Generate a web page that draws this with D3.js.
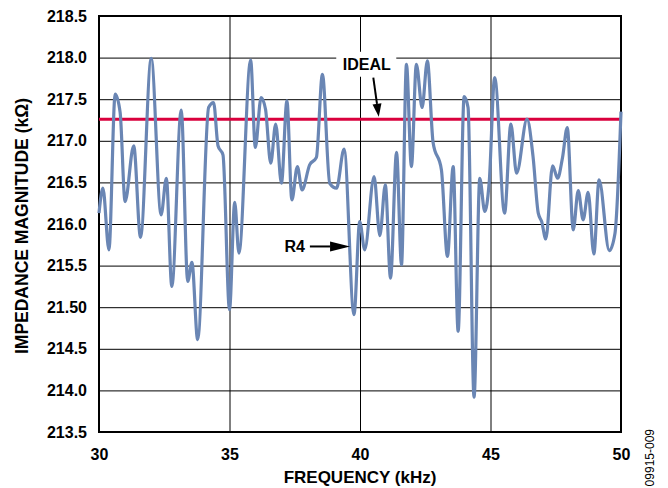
<!DOCTYPE html>
<html>
<head>
<meta charset="utf-8">
<script src="https://cdn.jsdelivr.net/npm/d3@7"></script>
<style>
	html, body { margin: 0; padding: 0; background: #fff; }
	#canvas { width: 668px; height: 488px; overflow: hidden; }
	text { font-family: "Liberation Sans", Arial, Helvetica, sans-serif; fill: #000; }
	.bold { font-weight: bold; }
</style>
</head>
<body>
<div id="canvas"></div>
<script>
/* global d3 */

// Data
var freqKHz = [
	30.00, 30.15, 30.38, 30.62, 30.81, 31.00, 31.33, 31.59, 32.00, 32.38,
	32.58, 32.79, 33.15, 33.40, 33.56, 33.78, 34.20, 34.39, 34.56, 34.75,
	35.00, 35.20, 35.36, 35.81, 35.99, 36.21, 36.38, 36.58, 36.77, 36.99,
	37.20, 37.39, 37.60, 37.78, 38.07, 38.33, 38.56, 38.84, 39.10, 39.39,
	39.77, 39.99, 40.18, 40.54, 40.76, 40.97, 41.17, 41.40, 41.59, 41.78,
	41.97, 42.16, 42.38, 42.58, 42.80, 43.12, 43.35, 43.57, 43.76, 43.99,
	44.14, 44.37, 44.59, 44.78, 44.95, 45.16, 45.54, 45.78, 46.00, 46.40,
	46.63, 46.83, 46.96, 47.12, 47.38, 47.57, 47.76, 47.94, 48.17, 48.36,
	48.55, 48.74, 48.96, 49.16, 49.55, 49.77, 50.00
];
var impedanceR4 = [
	216.13, 216.43, 215.69, 217.56, 217.34, 216.27, 216.94, 215.84, 217.99, 216.11,
	216.55, 215.25, 217.37, 215.31, 215.54, 214.61, 217.40, 217.46, 216.94, 216.83,
	214.97, 216.26, 215.65, 217.97, 216.92, 217.52, 217.38, 216.73, 217.20, 216.49,
	217.48, 216.29, 216.69, 216.41, 216.71, 216.80, 217.80, 216.49, 216.43, 216.90,
	214.91, 216.03, 215.69, 216.57, 215.86, 216.47, 215.35, 216.86, 215.51, 217.92,
	216.69, 217.92, 217.40, 217.96, 216.98, 216.65, 215.61, 216.69, 214.71, 217.53,
	217.40, 213.92, 216.55, 216.15, 216.50, 217.76, 216.13, 217.20, 216.61, 217.26,
	216.81, 216.13, 216.03, 215.82, 216.70, 216.55, 216.80, 217.16, 215.93, 216.40,
	216.05, 216.38, 215.64, 216.53, 215.68, 215.89, 217.35
];
var idealValue = 217.26;

var xTicks = [30, 35, 40, 45, 50];
var yTicks = [218.5, 218.0, 217.5, 217.0, 216.5, 216.0, 215.5, 215.0, 214.5, 214.0, 213.5];
var yTickLabels = ['218.5', '218.0', '217.5', '217.0', '216.5', '216.0', '215.5', '21.50', '214.5', '214.0', '213.5'];

// UI
var outerWidth = 668,
	outerHeight = 488,
	margin = { top: 16, left: 99, right: 47, bottom: 56 },
	width = outerWidth - margin.left - margin.right,
	height = outerHeight - margin.top - margin.bottom,
	lineColor = '#6a86b4',
	idealColor = '#d9003d';

var svg = d3.select('#canvas').append('svg')
	.attr('width', outerWidth)
	.attr('height', outerHeight);

var gWrap = svg.append('g')
	.attr('transform', 'translate(' + margin.left + ',' + margin.top + ')');

// Scales
var xScale = d3.scaleLinear().domain([30, 50]).range([0, width]),
	yScale = d3.scaleLinear().domain([213.5, 218.5]).range([height, 0]);

// Horizontal grid + y labels
var yAxis = d3.axisLeft(yScale)
	.tickValues(yTicks)
	.tickSize(-width)
	.tickPadding(12)
	.tickFormat(function(d, i) { return yTickLabels[i]; });

var gYAxis = gWrap.append('g').call(yAxis);
gYAxis.select('.domain').remove();
gYAxis.selectAll('line').attr('stroke', '#000').attr('stroke-width', 1);
gYAxis.selectAll('text')
	.attr('class', 'bold')
	.style('font-size', '16px')
	.attr('fill', '#000');

// Vertical grid + x labels
var xAxis = d3.axisBottom(xScale)
	.tickValues(xTicks)
	.tickSize(-height)
	.tickPadding(17)
	.tickFormat(d3.format('d'));

var gXAxis = gWrap.append('g')
	.attr('transform', 'translate(0,' + height + ')')
	.call(xAxis);
gXAxis.select('.domain').remove();
gXAxis.selectAll('line').attr('stroke', '#000').attr('stroke-width', 1);
gXAxis.selectAll('text')
	.attr('class', 'bold')
	.style('font-size', '16px')
	.attr('fill', '#000');

// Plot frame
gWrap.append('rect')
	.attr('x', 0)
	.attr('y', 0)
	.attr('width', width)
	.attr('height', height)
	.attr('fill', 'none')
	.attr('stroke', '#000')
	.attr('stroke-width', 2);

// Ideal line
gWrap.append('line')
	.attr('x1', xScale(30))
	.attr('x2', xScale(50))
	.attr('y1', yScale(idealValue))
	.attr('y2', yScale(idealValue))
	.attr('stroke', idealColor)
	.attr('stroke-width', 3);

// R4 trace
var series = freqKHz.map(function(f, i) {
	return { f: f, v: impedanceR4[i] };
});

var line = d3.line()
	.x(function(d) { return xScale(d.f); })
	.y(function(d) { return yScale(d.v); })
	.curve(d3.curveMonotoneX);

gWrap.append('path')
	.datum(series)
	.attr('d', line)
	.attr('fill', 'none')
	.attr('stroke', lineColor)
	.attr('stroke-width', 3.2)
	.attr('stroke-linejoin', 'round');

// Annotations
function arrow(g, x1, y1, x2, y2, headLen, headHalf) {
	var ang = Math.atan2(y2 - y1, x2 - x1),
		bx = x2 - headLen * Math.cos(ang),
		by = y2 - headLen * Math.sin(ang),
		px = -Math.sin(ang) * headHalf,
		py = Math.cos(ang) * headHalf;
	g.append('line')
		.attr('x1', x1).attr('y1', y1)
		.attr('x2', bx).attr('y2', by)
		.attr('stroke', '#000')
		.attr('stroke-width', 2);
	g.append('path')
		.attr('d', 'M' + x2 + ',' + y2 + 'L' + (bx + px) + ',' + (by + py) + 'L' + (bx - px) + ',' + (by - py) + 'Z')
		.attr('fill', '#000');
}

var gNotes = gWrap.append('g');

// IDEAL label with white backing
gNotes.append('rect')
	.attr('x', xScale(39.09))
	.attr('y', yScale(218.07))
	.attr('width', xScale(41.39) - xScale(39.09))
	.attr('height', yScale(217.77) - yScale(218.07))
	.attr('fill', '#fff');
gNotes.append('text')
	.attr('class', 'bold')
	.attr('x', xScale(40.26))
	.attr('y', yScale(217.85))
	.attr('text-anchor', 'middle')
	.style('font-size', '16px')
	.text('IDEAL');
arrow(gNotes, xScale(40.51), yScale(217.76), xScale(40.72), yScale(217.29), 13, 4.5);

// R4 label
gNotes.append('text')
	.attr('class', 'bold')
	.attr('x', xScale(37.89))
	.attr('y', yScale(215.66))
	.attr('text-anchor', 'end')
	.style('font-size', '16px')
	.text('R4');
arrow(gNotes, xScale(38.08), yScale(215.73), xScale(39.62), yScale(215.73), 20, 5);

// Axis titles
svg.append('text')
	.attr('class', 'bold')
	.attr('x', margin.left + width / 2)
	.attr('y', 483)
	.attr('text-anchor', 'middle')
	.style('font-size', '17px')
	.text('FREQUENCY (kHz)');

svg.append('text')
	.attr('class', 'bold')
	.attr('transform', 'translate(28,' + (margin.top + height / 2 + 2) + ') rotate(-90)')
	.attr('text-anchor', 'middle')
	.style('font-size', '17.5px')
	.text('IMPEDANCE MAGNITUDE (k\u03A9)');

// Figure id
svg.append('text')
	.attr('transform', 'translate(654,429) rotate(-90)')
	.attr('text-anchor', 'end')
	.style('font-size', '12px')
	.text('09915-009');
</script>
</body>
</html>
